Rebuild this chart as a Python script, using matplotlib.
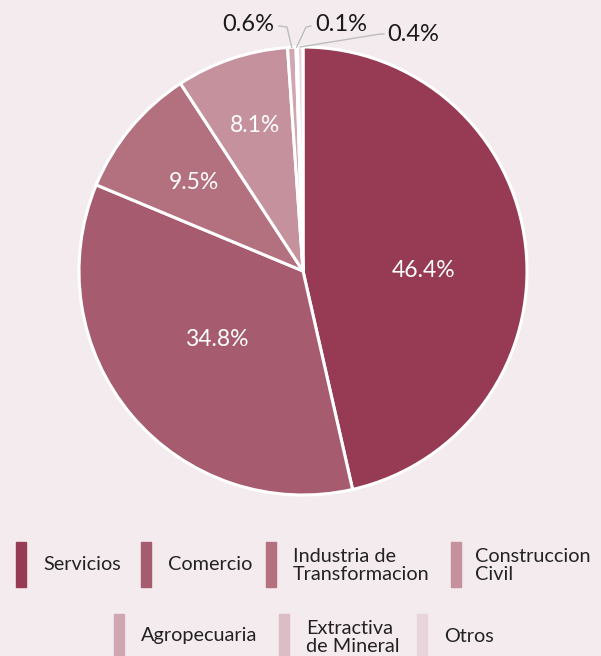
import matplotlib
matplotlib.use("Agg")
import matplotlib.pyplot as plt
from matplotlib.patches import Rectangle
import numpy as np

# datos
sectores = ["Servicios", "Comercio", "Industria de\nTransformacion", "Construccion\nCivil",
            "Agropecuaria", "Extractiva\nde Mineral", "Otros"]
porcentajes = [46.4, 34.8, 9.5, 8.1, 0.6, 0.1, 0.4]
colores = ["#963b53", "#a65c6e", "#b3707e", "#c4919d", "#d0a6b1", "#dcbdc5", "#e8d5db"]

fondo = "#f4ebee"
plt.rcParams["font.family"] = ["Lato", "DejaVu Sans"]

W, H = 601, 656
fig = plt.figure(figsize=(W / 100, H / 100), dpi=100, facecolor=fondo)

# pie centrado en (303, 271) px, radio 224 px
cx, cy, r = 303, 271, 224
ax = fig.add_axes([(cx - r) / W, (H - cy - r) / H, 2 * r / W, 2 * r / H])
ax.set_facecolor(fondo)

wedges, _ = ax.pie(porcentajes, colors=colores, startangle=90, counterclock=False,
                   wedgeprops=dict(edgecolor="white", linewidth=2.2), radius=1.0)
ax.set_xlim(-1, 1)
ax.set_ylim(-1, 1)
ax.set_aspect("equal")
ax.axis("off")


def px(x, y):
    # pixel de la imagen -> coordenadas de datos
    return (x - cx) / r, (cy - y) / r


# etiquetas dentro de las porciones grandes
pos_dentro = [(424, 271), (217, 340), (194, 183), (255, 126)]
for val, (x, y) in zip(porcentajes[:4], pos_dentro):
    ax.text(*px(x, y), f"{val}%", color="white", fontsize=16.5,
            ha="center", va="center")

# etiquetas fuera con lineas guia
codos = [(287, 27), (306, 27), (380, 34)]
finales = [(279, 26), (311, 26), (384, 34)]
textos = [(274, 25, "right"), (315, 25, "left"), (387, 35, "left")]
for w, val, c, f, t in zip(wedges[4:], porcentajes[4:], codos, finales, textos):
    ang = np.deg2rad((w.theta1 + w.theta2) / 2)
    x0, y0 = np.cos(ang), np.sin(ang)
    x1, y1 = px(*c)
    x2, y2 = px(*f)
    ax.plot([x0, x1, x2], [y0, y1, y2], color="#bdbdbd", lw=1, clip_on=False)
    ax.text(*px(t[0], t[1]), f"{val}%", color="#1a1a1a", fontsize=17,
            ha=t[2], va="center", clip_on=False)

# leyenda manual: (x marca, x texto)
filas = [
    [(16, 43), (141, 168), (266, 293), (451, 475)],
    [(114, 141), (279, 306), (417, 444)],
]
tops = [542, 614]
altura = 45
k = 0
for fila, top in zip(filas, tops):
    for mx, tx in fila:
        fig.patches.append(Rectangle((mx / W, 1 - (top + altura) / H), 10 / W, altura / H,
                                     transform=fig.transFigure, color=colores[k]))
        dy = 23.5 if "\n" in sectores[k] else 22
        fig.text(tx / W, 1 - (top + dy) / H, sectores[k], fontsize=14.3,
                 color="#222222", ha="left", va="center", linespacing=1.12)
        k += 1

fig.savefig("out.png", dpi=100, facecolor=fondo)
